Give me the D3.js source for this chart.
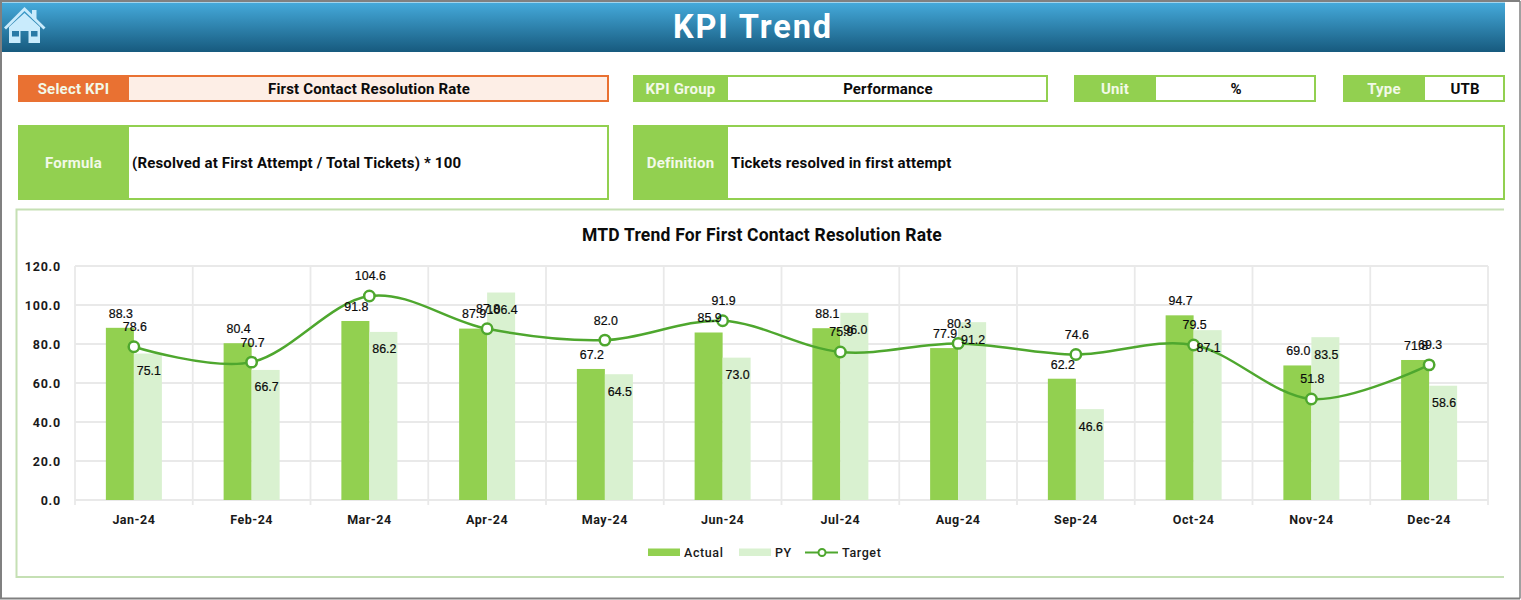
<!DOCTYPE html>
<html><head><meta charset="utf-8">
<script src="https://cdn.jsdelivr.net/npm/d3@7/dist/d3.min.js"></script>
<style>html,body{margin:0;padding:0;background:#fff;overflow:hidden}svg{display:block}</style>
</head><body><svg id="c" width="1521" height="600"></svg>
<script>
const months = ["Jan-24","Feb-24","Mar-24","Apr-24","May-24","Jun-24","Jul-24","Aug-24","Sep-24","Oct-24","Nov-24","Dec-24"];
const actual = [88.3,80.4,91.8,87.9,67.2,85.9,88.1,77.9,62.2,94.7,69.0,71.8];
const py = [75.1,66.7,86.2,106.4,64.5,73.0,96.0,91.2,46.6,87.1,83.5,58.6];
const target = [78.6,70.7,104.6,87.8,82.0,91.9,75.9,80.3,74.6,79.5,51.8,69.3];
const yTicks = [0,20,40,60,80,100,120];
const chartTitle = "MTD Trend For First Contact Resolution Rate";
const legendNames = ["Actual","PY","Target"];

const GREEN="#92d050", PALE="#d9f1d0", LINE="#4ea72e", GRID="#e9e9e9", FRAME="#c5e0b4", UI="Roboto, sans-serif";
const svg=d3.select("#c");
svg.append("rect").attr("width",1521).attr("height",600).attr("fill","#fff");
const defs=svg.append("defs");
const g=defs.append("linearGradient").attr("id","hdr").attr("x1",0).attr("x2",0).attr("y1",0).attr("y2",1);
g.append("stop").attr("offset",0).attr("stop-color","#45aadb");
g.append("stop").attr("offset",1).attr("stop-color","#175a7e");
svg.append("rect").attr("x",2).attr("y",2.5).attr("width",1503).attr("height",49.5).attr("fill","url(#hdr)");
svg.append("text").attr("x",753).attr("y",38.3).attr("text-anchor","middle").attr("font-family",UI)
  .attr("font-weight",700).attr("font-size",32.5).attr("letter-spacing",1.9).attr("fill","#fff").text("KPI Trend");

// house icon
const icon=svg.append("g").attr("fill","#c9ebfc");
icon.append("path").attr("d","M32 10h4.5v12L32 18z");
icon.append("path").attr("d","M4 27.5L24.5 7L45.5 27.5L43.5 29.5L24.5 11L6 29.5z");
icon.append("path").attr("d","M9 43V27L24.5 13L40 27V43H28.5V31H20.5V43z");
icon.append("rect").attr("x",12).attr("y",31).attr("width",7).attr("height",5.5).attr("fill","#2a7aa6");
icon.append("rect").attr("x",31).attr("y",31).attr("width",6.5).attr("height",5.5).attr("fill","#2a7aa6");

function box(o){
  svg.append("rect").attr("x",o.x+1).attr("y",o.y+1).attr("width",o.x2-o.x-2).attr("height",o.y2-o.y-2)
    .attr("fill",o.fill||"#fff").attr("stroke",o.color).attr("stroke-width",2);
  svg.append("rect").attr("x",o.x).attr("y",o.y).attr("width",o.mid-o.x).attr("height",o.y2-o.y).attr("fill",o.color);
  const cy=(o.y+o.y2)/2+5.5;
  svg.append("text").attr("x",(o.x+o.mid)/2).attr("y",cy).attr("text-anchor","middle").attr("font-family",UI)
    .attr("font-weight",700).attr("font-size",15).attr("letter-spacing",0.2).attr("fill",o.labelFill||"#f2f9e8").text(o.label);
  const t=svg.append("text").attr("y",cy-0.5).attr("font-family",UI).attr("font-weight",700).attr("font-size",15).attr("letter-spacing",0.16).attr("fill","#0b0b0b").text(o.value);
  if(o.left) t.attr("x",o.mid+3); else t.attr("x",(o.mid+o.x2)/2).attr("text-anchor","middle");
}
box({x:18,x2:609,y:75,y2:102,mid:129,color:"#e97132",fill:"#fdeee6",label:"Select KPI",value:"First Contact Resolution Rate"});
box({x:633,x2:1048,y:75,y2:102,mid:728,color:GREEN,label:"KPI Group",value:"Performance"});
box({x:1074,x2:1316,y:75,y2:102,mid:1156,color:GREEN,label:"Unit",value:"%"});
box({x:1343,x2:1505,y:75,y2:102,mid:1425,color:GREEN,label:"Type",value:"UTB"});
box({x:18,x2:609,y:125,y2:200,mid:129,color:GREEN,label:"Formula",value:"(Resolved at First Attempt / Total Tickets) * 100",left:true});
box({x:633,x2:1505,y:125,y2:200,mid:728,color:GREEN,label:"Definition",value:"Tickets resolved in first attempt",left:true});

// chart frame (open on the right)
svg.append("path").attr("d","M1504 209.5H16.5V577H1504").attr("fill","none").attr("stroke",FRAME).attr("stroke-width",2);
// outer window edge
svg.append("path").attr("d","M1520 1H1V598.5H1520").attr("fill","none").attr("stroke","#808080").attr("stroke-width",2);
svg.append("path").attr("d","M1520 1V598.5").attr("fill","none").attr("stroke","#808080").attr("stroke-width",1.5);

svg.append("text").attr("x",762).attr("y",241).attr("text-anchor","middle").attr("font-family",UI)
  .attr("font-weight",700).attr("font-size",17.5).attr("letter-spacing",0.2).attr("fill","#0b0b0b").text(chartTitle);

const x=d3.scaleBand().domain(months).range([75,1488]);
const y=d3.scaleLinear().domain([0,120]).range([500,266]);
const barW=28;
const cx=m=>x(m)+x.bandwidth()/2;

const plot=svg.append("g");
plot.append("g").selectAll("line").data(yTicks).join("line")
  .attr("x1",75).attr("x2",1488).attr("y1",d=>y(d)).attr("y2",d=>y(d)).attr("stroke",GRID).attr("stroke-width",1.8);
plot.append("g").selectAll("line").data(months.concat(["end"])).join("line")
  .attr("x1",d=>d==="end"?1488:x(d)).attr("x2",d=>d==="end"?1488:x(d))
  .attr("y1",266).attr("y2",505).attr("stroke",GRID).attr("stroke-width",1.8);

plot.append("g").selectAll("rect").data(actual).join("rect")
  .attr("x",(d,i)=>cx(months[i])-barW).attr("width",barW).attr("y",d=>y(d)).attr("height",d=>y(0)-y(d)).attr("fill",GREEN);
plot.append("g").selectAll("rect").data(py).join("rect")
  .attr("x",(d,i)=>cx(months[i])).attr("width",barW).attr("y",d=>y(d)).attr("height",d=>y(0)-y(d)).attr("fill",PALE);

const lineGen=d3.line().x((d,i)=>cx(months[i])).y(d=>y(d)).curve(d3.curveCardinal.tension(0));
plot.append("path").datum(target).attr("d",lineGen).attr("fill","none").attr("stroke",LINE).attr("stroke-width",2.5);
plot.append("g").selectAll("circle").data(target).join("circle")
  .attr("cx",(d,i)=>cx(months[i])).attr("cy",d=>y(d)).attr("r",5.2).attr("fill","#fff").attr("stroke",LINE).attr("stroke-width",2.5);

function labels(vals,dx,dy){
  plot.append("g").attr("font-family","Liberation Sans, Arial, sans-serif").attr("font-size",12.4).attr("fill","#0b0b0b")
    .attr("stroke","#0b0b0b").attr("stroke-width",0.2).attr("text-anchor","middle")
    .selectAll("text").data(vals).join("text")
    .attr("x",(d,i)=>cx(months[i])+dx).attr("y",d=>y(d)+dy+4.4).text(d=>d.toFixed(1));
}
labels(actual,-13,-14.5);
labels(py,15,17);
labels(target,1,-20);

// axes labels
const axisFont={family:UI,size:12.5,weight:700,ls:0.5};
plot.append("g").selectAll("text").data(yTicks).join("text")
  .attr("x",61).attr("y",d=>y(d)+4.6).attr("text-anchor","end").attr("font-family",axisFont.family).attr("font-size",axisFont.size)
  .attr("font-weight",axisFont.weight).attr("letter-spacing",0.8).attr("fill","#1a1a1a").text(d=>d.toFixed(1));
plot.append("g").selectAll("text").data(months).join("text")
  .attr("x",d=>cx(d)).attr("y",523.6).attr("text-anchor","middle").attr("font-family",axisFont.family).attr("font-size",axisFont.size)
  .attr("font-weight",axisFont.weight).attr("letter-spacing",axisFont.ls).attr("fill","#1a1a1a").text(d=>d);

// legend
const lg=svg.append("g");
lg.append("rect").attr("x",648).attr("y",548.5).attr("width",32).attr("height",7.5).attr("fill",GREEN);
lg.append("rect").attr("x",739).attr("y",548.5).attr("width",32).attr("height",7.5).attr("fill",PALE);
lg.append("line").attr("x1",805).attr("x2",838).attr("y1",552.5).attr("y2",552.5).attr("stroke",LINE).attr("stroke-width",2.2);
lg.append("circle").attr("cx",822).attr("cy",552.5).attr("r",3.5).attr("fill","#fff").attr("stroke",LINE).attr("stroke-width",2);
lg.selectAll("text").data(legendNames).join("text")
  .attr("x",(d,i)=>[684,775,842][i]).attr("y",556.8).attr("font-family",axisFont.family).attr("font-size",12.5)
  .attr("font-weight",500).attr("letter-spacing",0.6).attr("fill","#1a1a1a").text(d=>d);
</script></body></html>
